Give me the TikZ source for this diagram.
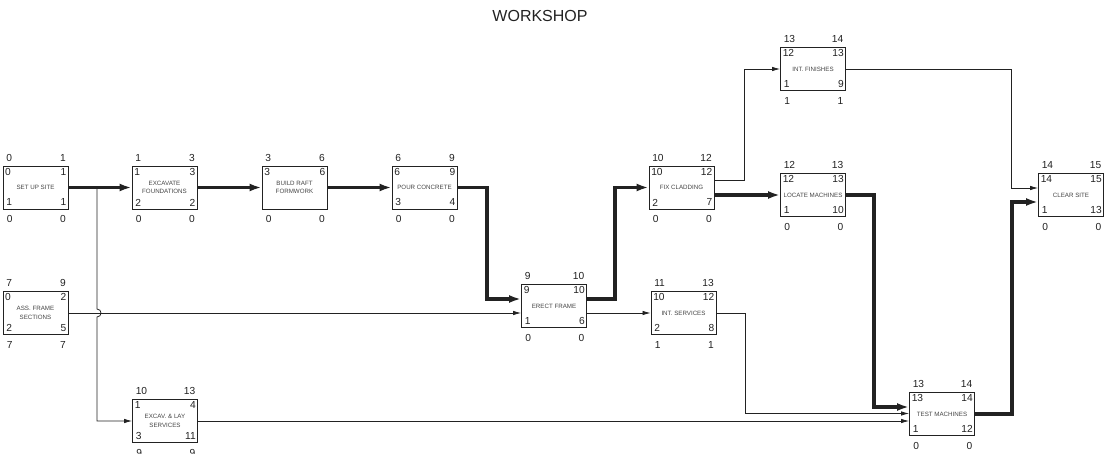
\documentclass[tikz,border=0pt]{standalone}
\usepackage{fontspec}
\setmainfont{Liberation Sans}
\usetikzlibrary{arrows.meta,calc}
\definecolor{ink}{HTML}{222222}
\definecolor{boxtext}{HTML}{444444}
\tikzset{
 act/.style={draw=ink, line width=0.9pt, minimum width=65pt, minimum height=43pt, inner sep=0pt, align=center, font=\fontsize{6.2}{8.3}\selectfont, text=boxtext},
 num/.style={font=\fontsize{10.2}{10.2}\selectfont, text=ink, inner sep=0pt},
 crit/.style={line width=3.3pt, draw=ink, line join=miter, -{Latex[length=12pt,width=8pt]}},
 link/.style={line width=0.8pt, draw=ink, -{Latex[length=8pt,width=4.5pt]}},
 titlestyle/.style={font=\fontsize{16}{16}\selectfont, text=ink}
}
\newcommand\actnums[9]{%
 \node[num,anchor=west] (#1-otl) at ([shift={(3.5,-8)}]#1.north west) {#2};
 \node[num,anchor=east] (#1-otr) at ([shift={(-2.5,-8)}]#1.north east) {#3};
 \node[num,anchor=west] (#1-itl) at ([shift={(2.5,6)}]#1.north west) {#4};
 \node[num,anchor=east] (#1-itr) at ([shift={(-2,6)}]#1.north east) {#5};
 \node[num,anchor=west] (#1-ibl) at ([shift={(3.5,-7)}]#1.south west) {#6};
 \node[num,anchor=east] (#1-ibr) at ([shift={(-2,-7)}]#1.south east) {#7};
 \node[num,anchor=west] (#1-obl) at ([shift={(4,10)}]#1.south west) {#8};
 \node[num,anchor=east] (#1-obr) at ([shift={(-2.5,10)}]#1.south east) {#9};
}
\begin{document}
\begin{tikzpicture}[x=1pt,y=-1pt]
\useasboundingbox (0,0) rectangle (1115,454);
\node[titlestyle] (title) at (540,16) {WORKSHOP};

\node[act] (setup) at (35.5,187.5) {SET UP SITE};
\node[act] (excav) at (164.5,187.5) {EXCAVATE\\FOUNDATIONS};
\node[act] (raft) at (294.5,187.5) {BUILD RAFT\\FORMWORK};
\node[act] (pour) at (424.5,187.5) {POUR CONCRETE};
\node[act] (fix) at (681.5,187.5) {FIX CLADDING};
\node[act] (locate) at (813,195) {LOCATE MACHINES};
\node[act] (finish) at (813,69) {INT. FINISHES};
\node[act] (clear) at (1071,195) {CLEAR SITE};
\node[act] (ass) at (35.5,313) {ASS. FRAME\\SECTIONS};
\node[act] (erect) at (554,306) {ERECT FRAME};
\node[act] (serv) at (683.5,313) {INT. SERVICES};
\node[act] (lay) at (165,421) {EXCAV. \& LAY\\SERVICES};
\node[act] (test) at (942,414) {TEST MACHINES};

\actnums{setup}{0}{1}{0}{1}{1}{1}{0}{0}
\actnums{excav}{1}{3}{1}{3}{2}{2}{0}{0}
\actnums{raft}{3}{6}{3}{6}{}{}{0}{0}
\actnums{pour}{6}{9}{6}{9}{3}{4}{0}{0}
\actnums{fix}{10}{12}{10}{12}{2}{7}{0}{0}
\actnums{locate}{12}{13}{12}{13}{1}{10}{0}{0}
\actnums{finish}{13}{14}{12}{13}{1}{9}{1}{1}
\actnums{clear}{14}{15}{14}{15}{1}{13}{0}{0}
\actnums{ass}{7}{9}{0}{2}{2}{5}{7}{7}
\actnums{erect}{9}{10}{9}{10}{1}{6}{0}{0}
\actnums{serv}{11}{13}{10}{12}{2}{8}{1}{1}
\actnums{lay}{10}{13}{1}{4}{3}{11}{9}{9}
\actnums{test}{13}{14}{13}{14}{1}{12}{0}{0}

% critical path
\draw[crit] (setup.east) -- (excav.west);
\draw[crit] (excav.east) -- (raft.west);
\draw[crit] (raft.east) -- (pour.west);
\draw[crit] (pour.east) -- (487,187.5) |- ([yshift=7pt]erect.west);
\draw[crit] ([yshift=7pt]erect.east) -- (615,299) |- (fix.west);
\draw[crit] (fix.east |- locate.west) -- (locate.west);
\draw[crit] (locate.east) -- (874,195) |- ([yshift=7pt]test.west);
\draw[crit] (test.east) -- (1012,414) |- ([yshift=-7pt]clear.west);

% other links
\coordinate (br) at (97,187.5);
\draw[link] (br) -- (97,309) .. controls (102.3,309) and (102.3,317) .. (97,317) -- (97,421) -- (lay.west);
\draw[link] (ass.east) -- (ass.east -| erect.west);
\draw[link] ([yshift=-7pt]erect.east) -- (serv.west);
\draw[link] ([yshift=7.5pt]fix.east) -- (744,180) |- (finish.west);
\draw[link] (serv.east) -- (745,313) |- ([yshift=0.5pt]test.west);
\draw[link] (lay.east) -- (lay.east -| test.west);
\draw[link] (finish.east) -- (1011,69) |- ([yshift=7pt]clear.west);
\end{tikzpicture}
\end{document}
